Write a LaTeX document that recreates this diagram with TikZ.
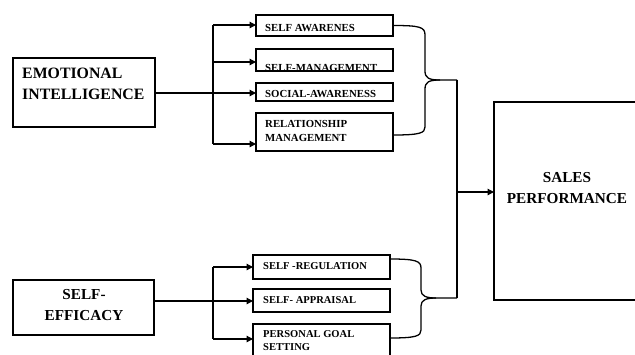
\documentclass[tikz,border=0pt]{standalone}
\usepackage{fontspec}
\setmainfont{Liberation Serif}
\usepackage[x11names]{xcolor}
\usetikzlibrary{arrows.meta}
\tikzset{>={Triangle[length=5.5pt,width=5.5pt]}}

\begin{document}
\begin{tikzpicture}[x=0.03cm,y=-0.03cm,
		box/.style={draw,line width=1.8pt,inner sep=0pt,outer sep=0pt},
		conn/.style={line width=1.1pt},
		big/.style={font=\bfseries\fontsize{13.5}{17.9}\selectfont,inner sep=0pt},
		small/.style={font=\bfseries\fontsize{9.2}{12}\selectfont,inner sep=0pt,anchor=north west,align=left}]
			% \draw[help lines,step=10] (0,0) grid (635,354);
			\useasboundingbox (0,0) rectangle (635,354);
			% texts
			\node[big,anchor=north west,align=left] (eitext) at (22,67.5) {EMOTIONAL\\INTELLIGENCE};
			\node[big,anchor=north,align=center,font=\bfseries\fontsize{13}{17.9}\selectfont] (setext) at (84,289) {SELF-\\EFFICACY};
			\node[big,anchor=north,align=center,font=\bfseries\fontsize{13}{17.9}\selectfont] (salestext) at (567,172) {SALES\\PERFORMANCE};
			\node[small] (satext) at (265,24) {SELF AWARENES};
			\node[small] (smtext) at (265,64.6) {SELF-MANAGEMENT};
			\node[small] (soctext) at (265,90) {SOCIAL-AWARENESS};
			\node[small] (rmtext) at (265,120.5) {RELATIONSHIP\\MANAGEMENT};
			\node[small,font=\bfseries\fontsize{9}{11.1}\selectfont] (srtext) at (263,262) {SELF -REGULATION};
			\node[small,font=\bfseries\fontsize{9}{11.1}\selectfont] (saptext) at (263,296) {SELF- APPRAISAL};
			\node[small,font=\bfseries\fontsize{9}{11.1}\selectfont] (pgstext) at (263,330) {PERSONAL GOAL\\SETTING};
			% boxes
			\node[box,minimum width=4.26cm,minimum height=2.07cm] (ei) at (84,92.5) {};
			\node[box,minimum width=4.23cm,minimum height=1.65cm] (se) at (83.5,307.5) {};
			\node[box,minimum width=4.35cm,minimum height=5.94cm] (sales) at (566.5,201) {};
			\node[box,minimum width=4.11cm,minimum height=.63cm] (sa) at (324.5,25.5) {};
			\node[box,minimum width=4.11cm,minimum height=.66cm] (sm) at (324.5,60) {};
			\node[box,minimum width=4.11cm,minimum height=.54cm] (soc) at (324.5,92) {};
			\node[box,minimum width=4.11cm,minimum height=1.14cm] (rm) at (324.5,132) {};
			\node[box,minimum width=4.11cm,minimum height=.72cm] (sr) at (321.5,267) {};
			\node[box,minimum width=4.11cm,minimum height=.69cm] (sap) at (321.5,300.5) {};
			\node[box,minimum width=4.11cm,minimum height=1.05cm] (pgs) at (321.5,341.5) {};
			% branches
			\coordinate (t1) at (213,25);
			\coordinate (t2) at (213,62);
			\coordinate (t3) at (213,93);
			\coordinate (t4) at (213,144);
			\coordinate (b1) at (213,267);
			\coordinate (b2) at (213,301);
			\coordinate (b3) at (213,339);
			\draw[conn] (t1) -- (t4);
			\draw[conn] (b1) -- (b3);
			\draw[conn,->] (ei.east |- t3) -- (t3 -| soc.west);
			\draw[conn,->] (se.east |- b2) -- (b2 -| sap.west);
			\foreach \c/\n in {t1/sa,t2/sm,t4/rm,b1/sr,b3/pgs}{
				\draw[conn,->] (\c) -- (\c -| \n.west);
			}
			% braces
			\coordinate (k1) at (457,80);
			\coordinate (k2) at (457,298);
			\coordinate (k3) at (457,192);
			\draw[conn] (sa.east) .. controls (420,25.5) and (425,27) .. (425,35) -- (425,71) .. controls (425,78) and (429,80) .. (440,80) -- (k1);
			\draw[conn] (440,80) .. controls (429,80) and (425,82) .. (425,89) -- (425,127) .. controls (425,133) and (420,135) .. (393,135);
			\draw[conn] (390,259) .. controls (416,259) and (421,261) .. (421,268) -- (421,290) .. controls (421,296) and (426,298) .. (436,298) -- (k2);
			\draw[conn] (436,298) .. controls (426,298) and (421,300) .. (421,306) -- (421,330) .. controls (421,336) and (416,338) .. (390,338);
			\draw[conn] (k1) -- (k2);
			\draw[conn,->] (k3) -- (k3 -| sales.west);
		\end{tikzpicture}
\end{document}
